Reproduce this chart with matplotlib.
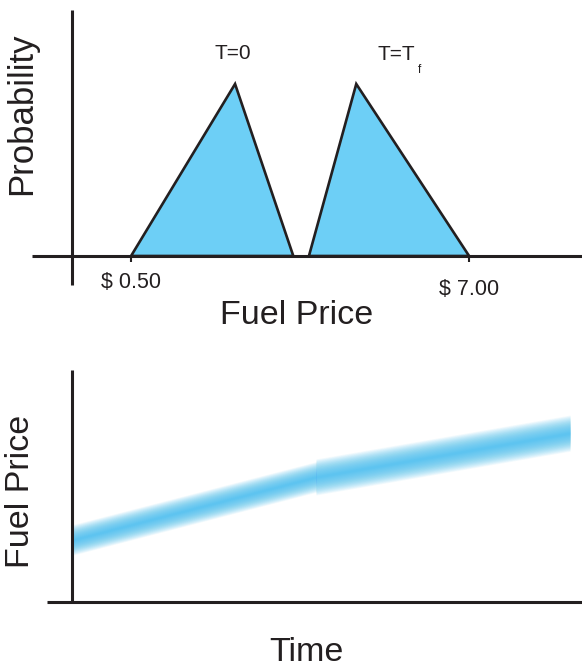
import matplotlib
matplotlib.use("Agg")
import matplotlib.pyplot as plt
import matplotlib.transforms as mtransforms

# ---------------- data ----------------
# Top panel: triangular probability distributions of fuel price
t0_prices = [0.50, 2.50, 3.62]
t0_probs = [0.0, 1.0, 0.0]
tf_prices = [3.92, 4.83, 7.00]
tf_probs = [0.0, 1.0, 0.0]
tick_prices = [0.50, 7.00]
tick_labels = ["$ 0.50", "$ 7.00"]
dist_labels = ["T=0", "T=T"]

# Bottom panel: fuel price band over time (two segments)
time_pts = [0.0, 4.9, 10.0]
price_center = [0.267, 0.539, 0.728]
band_halfwidth = [0.066, 0.078]   # left segment, right segment

# ---------------- style ----------------
W, H = 582, 668
DPI = 100
FONT = ["Liberation Sans", "DejaVu Sans"]
plt.rcParams["font.family"] = FONT
INK = "#231f20"
FILL = "#6dcff6"
BAND = "#3dbdf0"

fig = plt.figure(figsize=(W / DPI, H / DPI), dpi=DPI)
fig.patch.set_facecolor("white")


def fx(px):
    return px / W


def fy(py):
    return 1 - py / H


# ---------------- top panel ----------------
ax1 = fig.add_axes([fx(32), fy(285), fx(550), 275 / H])
ax1.set_xlim(-1.404, 9.17)
ax1.set_ylim(-0.1686, 1.430)
ax1.patch.set_alpha(0)
for s in ("top", "right"):
    ax1.spines[s].set_visible(False)
ax1.spines["left"].set_position(("data", -0.635))
ax1.spines["bottom"].set_position(("data", 0.0))
for s in ("left", "bottom"):
    ax1.spines[s].set_linewidth(2.2)
    ax1.spines[s].set_color(INK)
    ax1.spines[s].set_capstyle("butt")
ax1.set_xticks(tick_prices)
ax1.set_xticklabels([])
ax1.set_yticks([])
ax1.tick_params(axis="x", direction="out", length=4.5, width=1.5, color=INK)

ax1.fill(t0_prices, t0_probs, facecolor=FILL, edgecolor=INK, linewidth=1.9,
         joinstyle="miter", zorder=2)
ax1.fill(tf_prices, tf_probs, facecolor=FILL, edgecolor=INK, linewidth=1.9,
         joinstyle="miter", zorder=2)

tr1 = mtransforms.blended_transform_factory(ax1.transData, fig.transFigure)
ax1.text(t0_prices[0], fy(288), tick_labels[0], transform=tr1, ha="center",
         va="baseline", fontsize=15.5, color=INK)
ax1.text(tf_prices[2], fy(295), tick_labels[1], transform=tr1, ha="center",
         va="baseline", fontsize=15.5, color=INK)

ax1.text(t0_prices[1] - 0.05, fy(59), dist_labels[0], transform=tr1, ha="center",
         va="baseline", fontsize=15, color=INK)
tt = fig.text(fx(377), fy(60), dist_labels[1], ha="left", va="baseline",
              fontsize=15, color=INK)
ax1.annotate("f", xy=(1, 0), xycoords=tt, xytext=(2.0, -6.5),
             textcoords="offset points", ha="left", va="baseline",
             fontsize=8.5, color=INK)

fig.text(fx(297), fy(324), "Fuel Price", ha="center", va="baseline",
         fontsize=24.5, color=INK)
fig.text(fx(22), fy(114), "Probability", ha="center", va="center",
         rotation=90, fontsize=25, color=INK)

# ---------------- bottom panel ----------------
ax2 = fig.add_axes([fx(47), fy(602), fx(535), 232 / H])
ax2.set_xlim(-0.502, 10.24)
ax2.set_ylim(0.0, 1.0)
ax2.patch.set_alpha(0)
for s in ("top", "right"):
    ax2.spines[s].set_visible(False)
ax2.spines["left"].set_position(("data", 0.0))
ax2.spines["bottom"].set_position(("data", 0.0))
for s in ("left", "bottom"):
    ax2.spines[s].set_linewidth(2.2)
    ax2.spines[s].set_color(INK)
    ax2.spines[s].set_capstyle("butt")
ax2.set_xticks([])
ax2.set_yticks([])

K = 30
for seg in range(2):
    t = time_pts[seg:seg + 2]
    c = price_center[seg:seg + 2]
    hw = band_halfwidth[seg]
    for k in range(K, 0, -1):
        w = hw * k / K
        ax2.fill_between(t, [v - w for v in c], [v + w for v in c],
                         color=BAND, alpha=0.05, linewidth=0, zorder=1)

fig.text(fx(21), fy(491), "Fuel Price", ha="center", va="center",
         rotation=90, fontsize=24.5, color=INK)
fig.text(fx(306), fy(661), "Time", ha="center", va="baseline",
         fontsize=24.5, color=INK)

fig.savefig("out.png", dpi=DPI, facecolor="white")
